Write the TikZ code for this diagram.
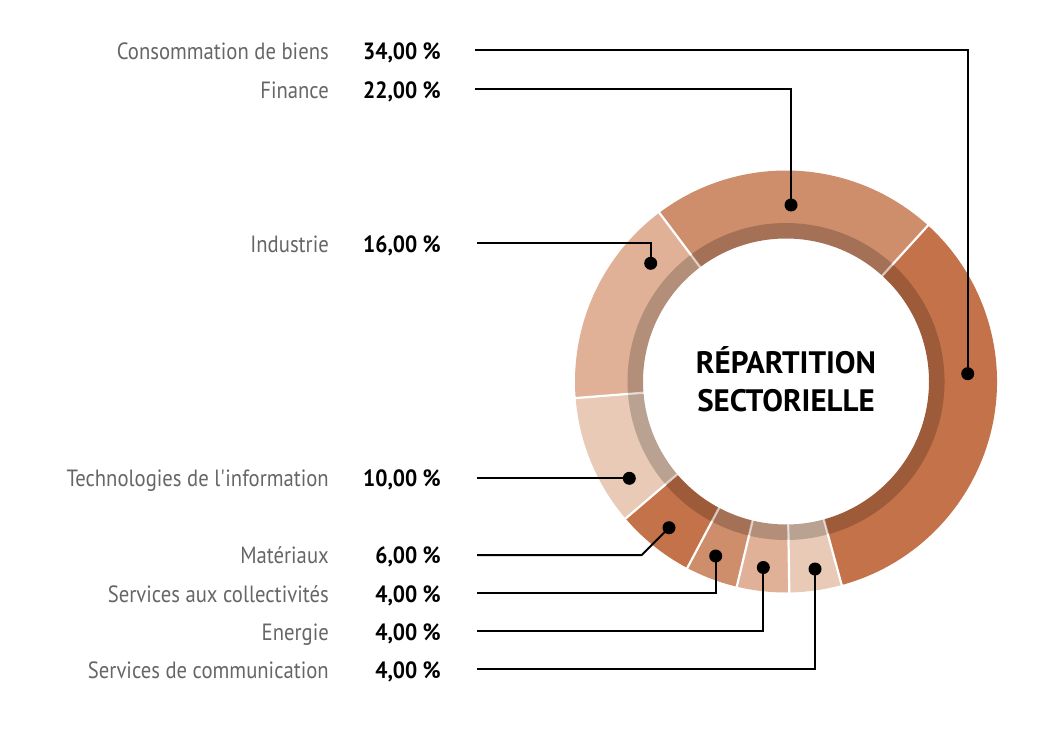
\documentclass[tikz,border=0pt]{standalone}
\usepackage{fontspec}
\setmainfont{PT Sans}[FakeStretch=0.88, BoldFeatures={FakeStretch=0.915}]
\newfontfamily\titlefont{PT Sans}
\definecolor{cA}{HTML}{C47249}
\definecolor{cB}{HTML}{CE8E6B}
\definecolor{cC}{HTML}{E0B196}
\definecolor{cD}{HTML}{E8CAB6}
\definecolor{labgray}{HTML}{666666}
\begin{document}
\begin{tikzpicture}[x=1pt,y=-1pt,
  lab/.style={anchor=base east, inner sep=0pt, text=labgray, font=\fontsize{23.5}{28}\selectfont},
  pct/.style={anchor=base east, inner sep=0pt, text=black, font=\fontsize{23.5}{28}\selectfont\bfseries},
  ttl/.style={anchor=base, inner sep=0pt, text=black, font=\titlefont\fontsize{31}{36}\selectfont\bfseries},
  dot/.style={circle, fill=black, inner sep=0pt, minimum size=13pt},
  conn/.style={draw=black, line width=2pt}]
\useasboundingbox (0,0) rectangle (1054,730);
\fill[white] (0,0) rectangle (1054,730);
% ring
\begin{scope}[shift={(786,381.5)}]
\foreach \a/\b/\c in {-74.7/47.7/cA, 47.7/126.9/cB, 126.9/184.5/cC, 184.5/220.5/cD, 220.5/242.1/cA, 242.1/256.5/cB, 256.5/270.9/cC, 270.9/285.3/cD}{
  \fill[\c] (\a:211pt) arc[start angle=\a, end angle=\b, radius=211pt] -- (\b:158pt) arc[start angle=\b, end angle=\a, radius=158pt] -- cycle;
  \fill[\c!80!black] (\a:158.5pt) arc[start angle=\a, end angle=\b, radius=158.5pt] -- (\b:143pt) arc[start angle=\b, end angle=\a, radius=143pt] -- cycle;
}
\foreach \a in {-74.7, 47.7, 126.9, 184.5, 220.5, 242.1, 256.5, 270.9}{
  \draw[white, line width=2.2pt] (\a:158pt) -- (\a:213pt);
  \draw[white, opacity=0.6, line width=2.2pt] (\a:142pt) -- (\a:158pt);
}
\end{scope}
% title
\node[ttl] (t1) at (786,373.3) {RÉPARTITION};
\node[ttl] (t2) at (786,411.7) {SECTORIELLE};
% labels
\node[lab] (n1) at (329,59.3) {Consommation de biens};
\node[lab] (n2) at (329,98.3) {Finance};
\node[lab] (n3) at (329,252.3) {Industrie};
\node[lab] (n4) at (329,486.5) {Technologies de l\textquotesingle information};
\node[lab] (n5) at (329,563.5) {Matériaux};
\node[lab] (n6) at (329,602.3) {Services aux collectivités};
\node[lab] (n7) at (329,640.3) {Energie};
\node[lab] (n8) at (329,678.3) {Services de communication};
\node[pct] (p1) at (441,59.3) {34,00 \%};
\node[pct] (p2) at (441,98.3) {22,00 \%};
\node[pct] (p3) at (441,252.3) {16,00 \%};
\node[pct] (p4) at (441,486.5) {10,00 \%};
\node[pct] (p5) at (441,563.5) {6,00 \%};
\node[pct] (p6) at (441,602.3) {4,00 \%};
\node[pct] (p7) at (441,640.3) {4,00 \%};
\node[pct] (p8) at (441,678.3) {4,00 \%};
% connector start points
\coordinate (s1) at (475,50);
\coordinate (s2) at (475,88.7);
\coordinate (s3) at (477,243);
\coordinate (s4) at (477,478.3);
\coordinate (s5) at (477,555);
\coordinate (s6) at (477,593.3);
\coordinate (s7) at (477,631);
\coordinate (s8) at (477,668.5);
\coordinate (k5) at (641.7,555);
% dots
\node[dot] (d1) at (967.7,373.7) {};
\node[dot] (d2) at (791,205) {};
\node[dot] (d3) at (650.7,263.3) {};
\node[dot] (d4) at (629.3,478.3) {};
\node[dot] (d5) at (669,527.7) {};
\node[dot] (d6) at (715.7,556) {};
\node[dot] (d7) at (763.3,567.5) {};
\node[dot] (d8) at (815,569) {};
% connectors
\draw[conn] (s1) -| (d1.center);
\draw[conn] (s2) -| (d2.center);
\draw[conn] (s3) -| (d3.center);
\draw[conn] (s4) -- (d4.center);
\draw[conn] (s5) -- (k5) -- (d5.center);
\draw[conn] (s6) -| (d6.center);
\draw[conn] (s7) -| (d7.center);
\draw[conn] (s8) -| (d8.center);
\end{tikzpicture}
\end{document}
